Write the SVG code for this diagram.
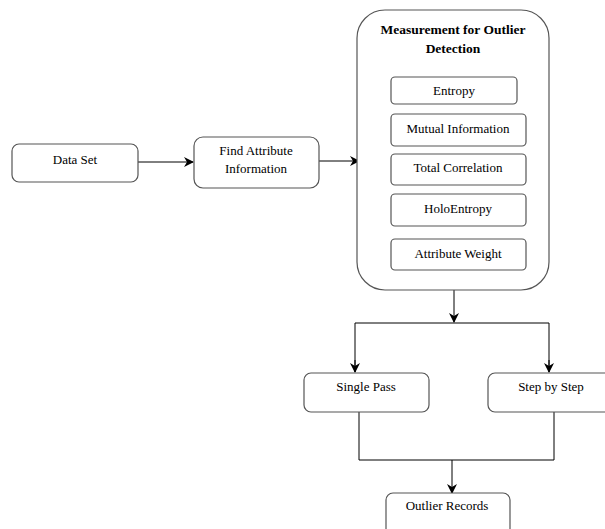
<svg xmlns="http://www.w3.org/2000/svg" width="605" height="529" viewBox="0 0 605 529">
  <defs>
    <marker id="arr" viewBox="0 0 10 10" refX="9" refY="5" markerWidth="10" markerHeight="10" markerUnits="userSpaceOnUse" orient="auto">
      <path d="M0,0 L10,5 L0,10 L3,5 Z" fill="#000"/>
    </marker>
  </defs>
  <style>
    .box { fill: #fff; stroke: #555; stroke-width: 1.2; }
    .con { fill: none; stroke: #000; stroke-width: 1; }
  </style>
  <rect width="605" height="529" fill="#fff"/>

  <g id="connectors">
    <line class="con" x1="138" y1="162" x2="193" y2="162" marker-end="url(#arr)"/>
    <line class="con" x1="319" y1="161" x2="359" y2="161" marker-end="url(#arr)"/>
    <line class="con" x1="454" y1="290" x2="454" y2="322" marker-end="url(#arr)"/>
    <polyline class="con" points="355,372 355,323 549,323 549,372"/>
    <line class="con" x1="355" y1="360" x2="355" y2="372" marker-end="url(#arr)"/>
    <line class="con" x1="549" y1="360" x2="549" y2="372" marker-end="url(#arr)"/>
    <polyline class="con" points="359,412 359,460 554,460 554,412"/>
    <line class="con" x1="452" y1="460" x2="452" y2="493" marker-end="url(#arr)"/>
  </g>

  <g font-family="Times New Roman, Liberation Serif, serif" font-size="13" fill="#000" text-anchor="middle">
    <g id="data-set">
      <rect class="box" x="12" y="144" width="126" height="38" rx="7"/>
      <text x="75" y="164">Data Set</text>
    </g>

    <g id="find-attribute">
      <rect class="box" x="194" y="137" width="125" height="51" rx="9"/>
      <text x="256" y="155">Find Attribute</text>
      <text x="256" y="173">Information</text>
    </g>

    <g id="measurement">
      <rect class="box" x="357" y="10" width="192" height="280" rx="28"/>
      <text x="453" y="34" font-weight="bold" font-size="13.5">Measurement for Outlier</text>
      <text x="453" y="53" font-weight="bold" font-size="13.5">Detection</text>
    </g>

    <g id="entropy">
      <rect class="box" x="391" y="77" width="126" height="27" rx="4"/>
      <text x="454" y="95">Entropy</text>
    </g>

    <g id="mutual-information">
      <rect class="box" x="391" y="114" width="135" height="32" rx="4"/>
      <text x="458" y="133">Mutual Information</text>
    </g>

    <g id="total-correlation">
      <rect class="box" x="391" y="154" width="135" height="31" rx="4"/>
      <text x="458" y="172">Total Correlation</text>
    </g>

    <g id="holoentropy">
      <rect class="box" x="391" y="194" width="135" height="32" rx="4"/>
      <text x="458" y="213">HoloEntropy</text>
    </g>

    <g id="attribute-weight">
      <rect class="box" x="391" y="239" width="135" height="31" rx="4"/>
      <text x="458" y="258">Attribute Weight</text>
    </g>

    <g id="single-pass">
      <rect class="box" x="304" y="373" width="125" height="39" rx="7"/>
      <text x="366" y="391">Single Pass</text>
    </g>

    <g id="step-by-step">
      <rect class="box" x="488" y="373" width="125" height="39" rx="7"/>
      <text x="551" y="391">Step by Step</text>
    </g>

    <g id="outlier-records">
      <rect class="box" x="386" y="493" width="124" height="45" rx="7"/>
      <text x="447" y="510">Outlier Records</text>
    </g>
  </g>
</svg>
